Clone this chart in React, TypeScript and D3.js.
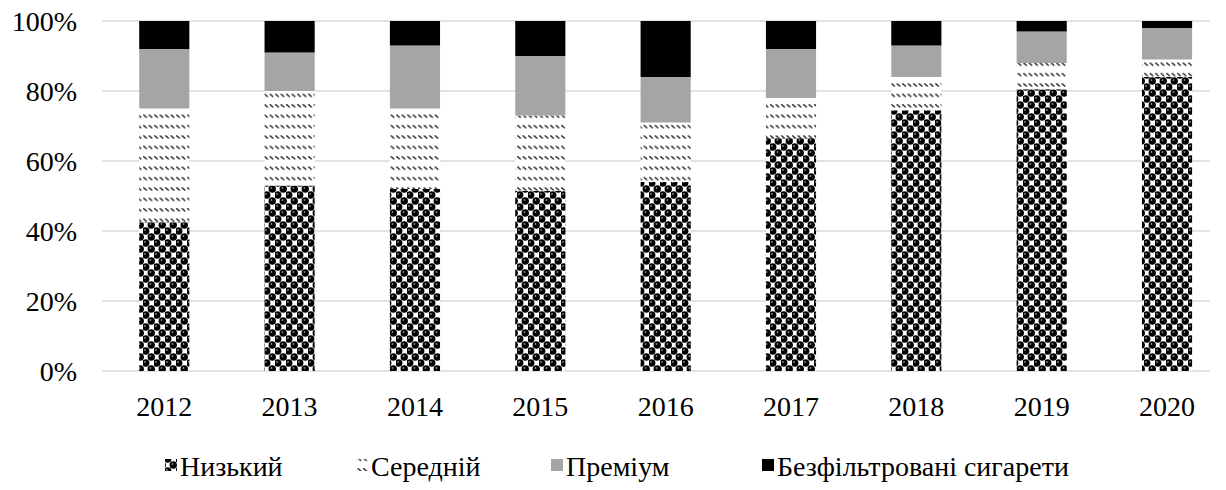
import React from "react";
import * as d3 from "d3";

const years = ["2012", "2013", "2014", "2015", "2016", "2017", "2018", "2019", "2020"];
const low = [42.5, 53, 52, 51.5, 54, 66.5, 74.5, 80.5, 84];
const mid = [32.5, 27, 23, 21.5, 17, 11.5, 9.5, 7.5, 5];
const premium = [17, 11, 18, 17, 13, 14, 9, 9, 9];
const unfiltered = [8, 9, 7, 10, 16, 8, 7, 3, 2];
const seriesNames = ["Низький", "Середній", "Преміум", "Безфільтровані сигарети"];
const yTicks = [0, 20, 40, 60, 80, 100];

const fills = ["url(#sphere)", "url(#dashdiag)", "#a5a5a5", "#000000"];
const textStyle = { fontFamily: '"Liberation Serif", "FreeSerif", "Times New Roman", "Tinos"' };

export default function App() {
  const W = 1226, H = 490;
  const x = d3.scaleBand<string>().domain(years).range([101.6, 1229.7]).paddingInner(0.6).paddingOuter(0.3);
  const y = d3.scaleLinear().domain([0, 100]).range([371, 21]);
  const data = years.map((yr, i) => ({ year: yr, s0: low[i], s1: mid[i], s2: premium[i], s3: unfiltered[i] }));
  const stack = d3.stack<any>().keys(["s0", "s1", "s2", "s3"]);
  const layers = stack(data);

  const legendX = [165, 356, 551, 762];

  return (
    <svg width={W} height={H} style={{ position: "absolute", left: 0, top: 0 }}>
      <defs>
        <pattern id="dashdiag" patternUnits="userSpaceOnUse" width={5.5} height={10.4}>
          <rect width={5.5} height={10.4} fill="#fff" />
          <path d="M0.3,0.3 L3.8,3.3" stroke="#111" strokeWidth={1.3} />
        </pattern>
        <pattern id="sphere" patternUnits="userSpaceOnUse" width={11} height={12}>
          <rect width={11} height={12} fill="#fff" />
          {[[2.75, 3], [8.25, 9], [-2.75, 9], [13.75, 9], [2.75, 15], [8.25, -3]].map(([cx, cy], i) => (
            <g key={i}>
              <circle cx={cx} cy={cy} r={3.7} fill="#000" />
              <circle cx={cx - 0.8} cy={cy - 1} r={0.9} fill="#888" />
            </g>
          ))}
        </pattern>
      </defs>
      <rect width={W} height={H} fill="#fff" />
      {yTicks.map((t) => (
        <g key={t}>
          <line x1={102} x2={1210} y1={y(t)} y2={y(t)} stroke="#d9d9d9" strokeWidth={1.5} />
          <text x={77} y={y(t) + 9.5} textAnchor="end" fontSize={28} fill="#000" style={textStyle}>
            {t}%
          </text>
        </g>
      ))}
      {layers.map((layer, li) => (
        <g key={li}>
          {layer.map((d, i) => (
            <rect
              key={i}
              x={x(years[i])}
              width={x.bandwidth()}
              y={y(d[1])}
              height={y(d[0]) - y(d[1])}
              fill={fills[li]}
            />
          ))}
        </g>
      ))}
      {years.map((yr) => (
        <text key={yr} x={(x(yr) as number) + x.bandwidth() / 2} y={415.5} textAnchor="middle" fontSize={28} fill="#000" style={textStyle}>
          {yr}
        </text>
      ))}
      {seriesNames.map((name, i) => (
        <g key={name}>
          <rect x={legendX[i]} y={459} width={12} height={12} fill={fills[i]} />
          <text x={legendX[i] + 15} y={475.5} fontSize={28} fill="#000" style={textStyle}>
            {name}
          </text>
        </g>
      ))}
    </svg>
  );
}
